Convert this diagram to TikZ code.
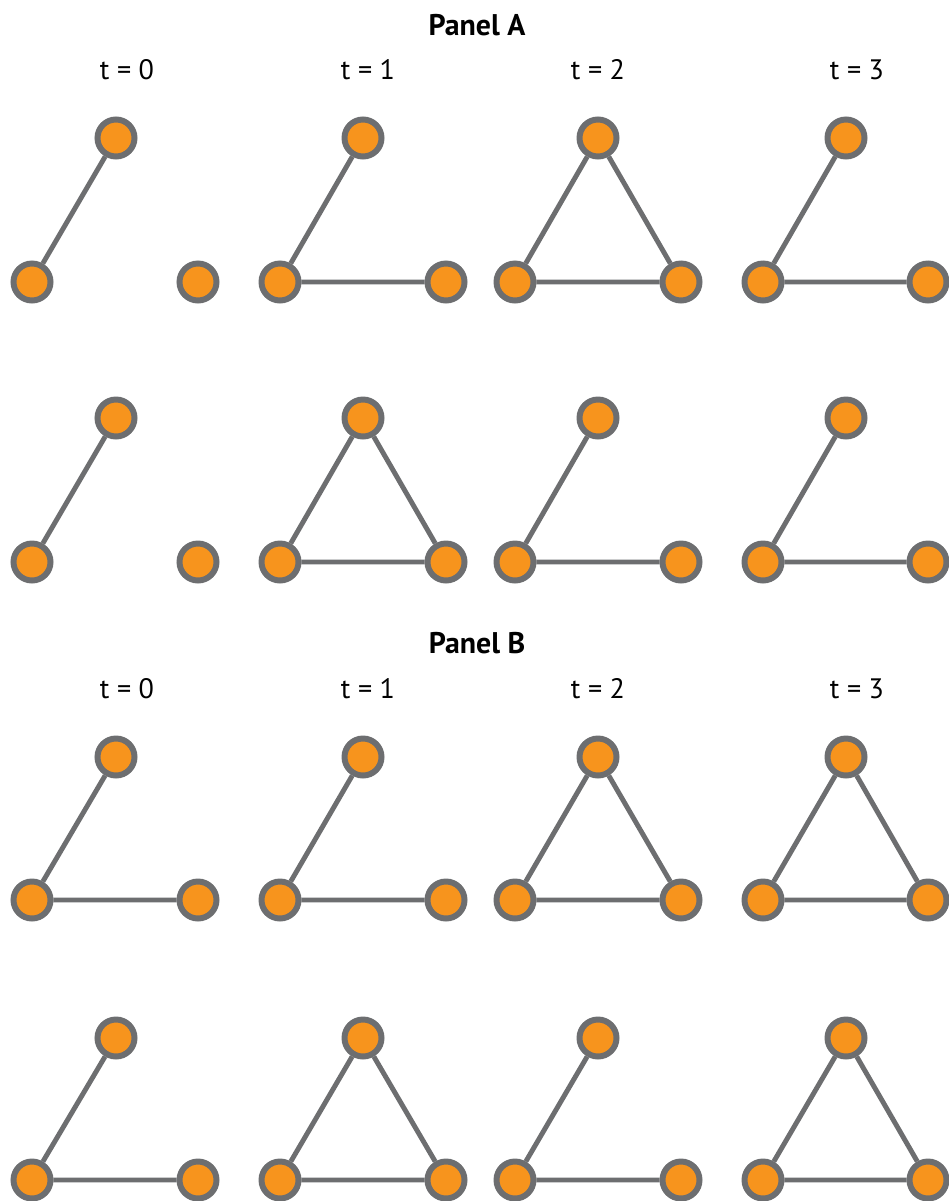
\documentclass[tikz,border=0pt]{standalone}
\usepackage{fontspec}
\setmainfont{PT Sans}
\usepackage{tikz}
\definecolor{nodeorange}{RGB}{247,148,29}
\definecolor{edgegray}{RGB}{109,110,112}
\tikzset{
  vertex/.style={circle, draw=edgegray, fill=nodeorange, line width=3.4pt,
    minimum size=7.4mm, inner sep=0pt},
  link/.style={edgegray, line width=2.8pt},
  paneltitle/.style={font=\fontsize{17}{20}\selectfont\bfseries},
  steplabel/.style={font=\fontsize{16}{19}\selectfont},
}

\begin{document}
\begin{tikzpicture}[x=0.2mm, y=-0.2mm]
\useasboundingbox (0,0) rectangle (948,1201);

% ── Titles ──
\node[paneltitle] (titleA) at (477,25) {Panel A};
\node[paneltitle] (titleB) at (477,643) {Panel B};
\foreach \c/\x in {0/127,1/368,2/598,3/857}{
  \node[steplabel] (tA\c) at (\x,70) {t = \c};
  \node[steplabel] (tB\c) at (\x,689) {t = \c};
}

% ── Vertices: rows r1..r4, columns c0..c3 ──
\foreach \r/\ty/\by in {1/138/282, 2/418/562, 3/757/900, 4/1038/1180}{
  \foreach \c/\tx/\lx/\rx in {0/116/32/198, 1/363/280/446, 2/598/515/681, 3/846/763/928}{
    \node[vertex] (r\r c\c t) at (\tx,\ty) {};
    \node[vertex] (r\r c\c l) at (\lx,\by) {};
    \node[vertex] (r\r c\c r) at (\rx,\by) {};
  }
}

% ── Panel A, first row ──
\draw[link] (r1c0t) -- (r1c0l);
\draw[link] (r1c1t) -- (r1c1l) -- (r1c1r);
\draw[link] (r1c2t) -- (r1c2l) -- (r1c2r) -- (r1c2t);
\draw[link] (r1c3t) -- (r1c3l) -- (r1c3r);

% ── Panel A, second row ──
\draw[link] (r2c0t) -- (r2c0l);
\draw[link] (r2c1t) -- (r2c1l) -- (r2c1r) -- (r2c1t);
\draw[link] (r2c2t) -- (r2c2l) -- (r2c2r);
\draw[link] (r2c3t) -- (r2c3l) -- (r2c3r);

% ── Panel B, first row ──
\draw[link] (r3c0t) -- (r3c0l) -- (r3c0r);
\draw[link] (r3c1t) -- (r3c1l) -- (r3c1r);
\draw[link] (r3c2t) -- (r3c2l) -- (r3c2r) -- (r3c2t);
\draw[link] (r3c3t) -- (r3c3l) -- (r3c3r) -- (r3c3t);

% ── Panel B, second row ──
\draw[link] (r4c0t) -- (r4c0l) -- (r4c0r);
\draw[link] (r4c1t) -- (r4c1l) -- (r4c1r) -- (r4c1t);
\draw[link] (r4c2t) -- (r4c2l) -- (r4c2r);
\draw[link] (r4c3t) -- (r4c3l) -- (r4c3r) -- (r4c3t);

\end{tikzpicture}
\end{document}
